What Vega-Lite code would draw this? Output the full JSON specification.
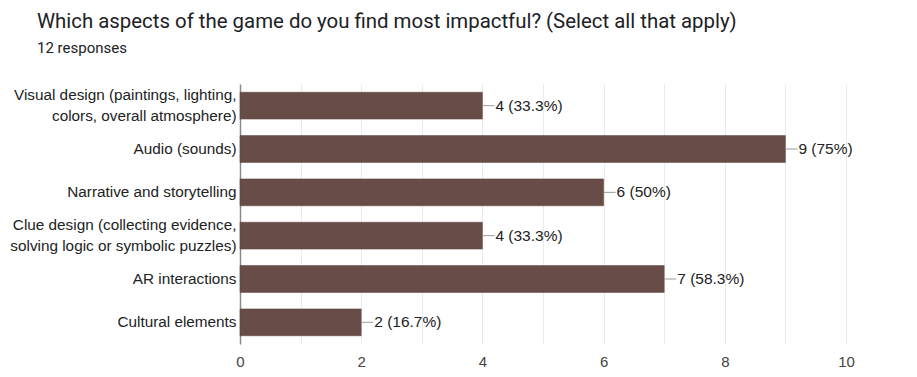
{
  "$schema": "https://vega.github.io/schema/vega-lite/v6.json",
  "autosize": {"type": "none"},
  "width": 606,
  "height": 260,
  "padding": {"left": 240, "top": 84, "right": 71, "bottom": 33},
  "background": "white",
  "title": {
    "text": "Which aspects of the game do you find most impactful? (Select all that apply)",
    "subtitle": "12 responses",
    "anchor": "start",
    "frame": "group",
    "dx": -203,
    "offset": 28,
    "font": "Roboto",
    "fontSize": 20.4,
    "fontWeight": "normal",
    "color": "#202124",
    "subtitleFont": "Roboto",
    "subtitleFontSize": 15,
    "subtitleColor": "#202124",
    "subtitlePadding": 9
  },
  "data": {
    "values": [
      {"label": "Visual design (paintings, lighting,|colors, overall atmosphere)", "count": 4, "pct": "33.3%"},
      {"label": "Audio (sounds)", "count": 9, "pct": "75%"},
      {"label": "Narrative and storytelling", "count": 6, "pct": "50%"},
      {"label": "Clue design (collecting evidence,|solving logic or symbolic puzzles)", "count": 4, "pct": "33.3%"},
      {"label": "AR interactions", "count": 7, "pct": "58.3%"},
      {"label": "Cultural elements", "count": 2, "pct": "16.7%"}
    ]
  },
  "config": {
    "view": {"stroke": null},
    "font": "Liberation Sans"
  },
  "encoding": {
    "y": {
      "field": "label",
      "type": "nominal",
      "sort": null,
      "scale": {"paddingInner": 0.38, "paddingOuter": 0.19},
      "axis": {
        "title": null,
        "labelExpr": "split(datum.label, '|')",
        "labelFont": "Liberation Sans",
        "labelFontSize": 15.3,
        "labelColor": "#222222",
        "labelLineHeight": 21,
        "labelBaseline": "middle",
        "labelPadding": 4,
        "labelLimit": 400,
        "labelOffset": {"condition": {"test": "indexof(datum.value, '|') >= 0", "value": -10.5}, "value": 0},
        "ticks": false,
        "domainColor": "#8a8a8a",
        "domainWidth": 1.5,
        "grid": false
      }
    }
  },
  "layer": [
    {
      "mark": {"type": "bar", "color": "#684c47", "stroke": "#5a403c", "strokeWidth": 0.5},
      "encoding": {
        "x": {
          "field": "count",
          "type": "quantitative",
          "scale": {"domain": [0, 10], "nice": false},
          "axis": {
            "title": null,
            "values": [0, 1, 2, 3, 4, 5, 6, 7, 8, 9, 10],
            "format": "d",
            "labelExpr": "datum.value % 2 == 0 ? datum.label : ''",
            "labelFont": "Liberation Sans",
            "labelFontSize": 15,
            "labelColor": "#444444",
            "labelPadding": 10,
            "labelFlush": false,
            "ticks": false,
            "domain": false,
            "grid": true,
            "gridColor": "#ebebeb",
            "gridWidth": 1
          }
        }
      }
    },
    {
      "mark": {"type": "rule", "color": "#999999", "strokeWidth": 1, "x2Offset": 12},
      "encoding": {
        "x": {"field": "count", "type": "quantitative"},
        "x2": {"field": "count"}
      }
    },
    {
      "mark": {"type": "text", "align": "left", "baseline": "middle", "dx": 13, "font": "Liberation Sans", "fontSize": 15.5, "color": "#222222"},
      "encoding": {
        "x": {"field": "count", "type": "quantitative"},
        "text": {"field": "text"}
      },
      "transform": [{"calculate": "datum.count + ' (' + datum.pct + ')'", "as": "text"}]
    }
  ]
}
